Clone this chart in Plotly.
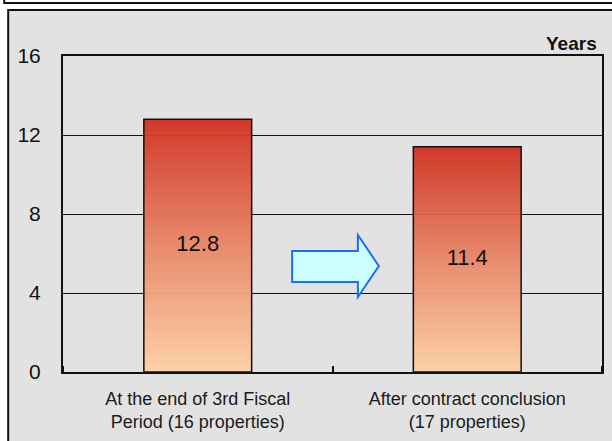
import plotly.graph_objects as go

categories = ["At the end of 3rd Fiscal<br>Period (16 properties)",
              "After contract conclusion<br>(17 properties)"]
values = [12.8, 11.4]
value_labels = ["12.8", "11.4"]
y_ticks = [0, 4, 8, 12, 16]
unit_label = "Years"

W, H = 612, 441
L, R, T, B = 63, 8, 56, 69
pw, ph = W - L - R, H - T - B

def px(x):
    return (x - L) / pw

def py(y):
    return (H - B - y) / ph

bar_w = 0.4
fig = go.Figure()
for i, v in enumerate(values):
    xs = [i - bar_w / 2, i + bar_w / 2, i + bar_w / 2, i - bar_w / 2, i - bar_w / 2]
    ys = [0, 0, v, v, 0]
    fig.add_trace(go.Scatter(
        x=xs, y=ys, mode="lines", fill="toself",
        line=dict(color="#111111", width=1.5),
        fillgradient=dict(type="vertical",
                          colorscale=[[0, "rgba(253,208,164,0.95)"],
                                      [0.5, "rgba(232,134,102,0.95)"],
                                      [1, "rgba(208,48,32,0.95)"]]),
        hoverinfo="skip", showlegend=False))

fig.add_trace(go.Scatter(
    x=list(range(len(values))), y=[v / 2 for v in values],
    mode="text", text=value_labels,
    textfont=dict(family="Liberation Sans, Arial", size=22, color="#111111"),
    showlegend=False, hoverinfo="skip"))

# background frames
shapes = [
    dict(type="rect", xref="paper", yref="paper", layer="below",
         x0=px(8), y0=py(500), x1=px(700), y1=py(10),
         fillcolor="#e2e2e2", line=dict(color="#111111", width=2)),
    dict(type="rect", xref="paper", yref="paper", layer="below",
         x0=px(4), y0=py(3), x1=px(700), y1=py(-50),
         fillcolor="#ffffff", line=dict(color="#111111", width=2)),
    # arrow
    dict(type="path", xref="paper", yref="paper", layer="above",
         path=("M {a},{b} L {c},{b} L {c},{d} L {e},{f} L {c},{g} L {c},{h} L {a},{h} Z"
               .format(a=px(293), b=py(251), c=px(359), d=py(235),
                       e=px(380), f=py(266), g=py(297), h=py(282))),
         fillcolor="#ccffff", line=dict(color="#1a6ff0", width=2)),
]

fig.update_layout(
    width=W, height=H,
    margin=dict(l=L, r=R, t=T, b=B),
    paper_bgcolor="#ffffff",
    plot_bgcolor="#ffffff",
    shapes=shapes,
    font=dict(family="Liberation Sans, Arial", color="#111111"),
    xaxis=dict(range=[-0.5, 1.5], tickvals=list(range(len(categories))),
               ticktext=categories, ticks="", showgrid=False, zeroline=False,
               showline=True, linecolor="#111111", linewidth=2, mirror=True,
               tickfont=dict(size=18, color="#1a1a1a"), ticklabelstandoff=9,
               minor=dict(tick0=0.5, dtick=1, ticks="inside", ticklen=6,
                          tickcolor="#111111", tickwidth=1.5, showgrid=False)),
    yaxis=dict(range=[0, 16], tickvals=y_ticks, ticks="", showgrid=True,
               gridcolor="#111111", gridwidth=1, zeroline=False,
               showline=True, linecolor="#111111", linewidth=2, mirror=True,
               tickfont=dict(size=21), ticklabelstandoff=16),
    annotations=[dict(text="<b>" + unit_label + "</b>", xref="paper", yref="paper",
                      x=px(601), y=py(43), xanchor="right", yanchor="middle",
                      showarrow=False, font=dict(size=19, color="#111111"))],
)

fig.write_html("out.html")
